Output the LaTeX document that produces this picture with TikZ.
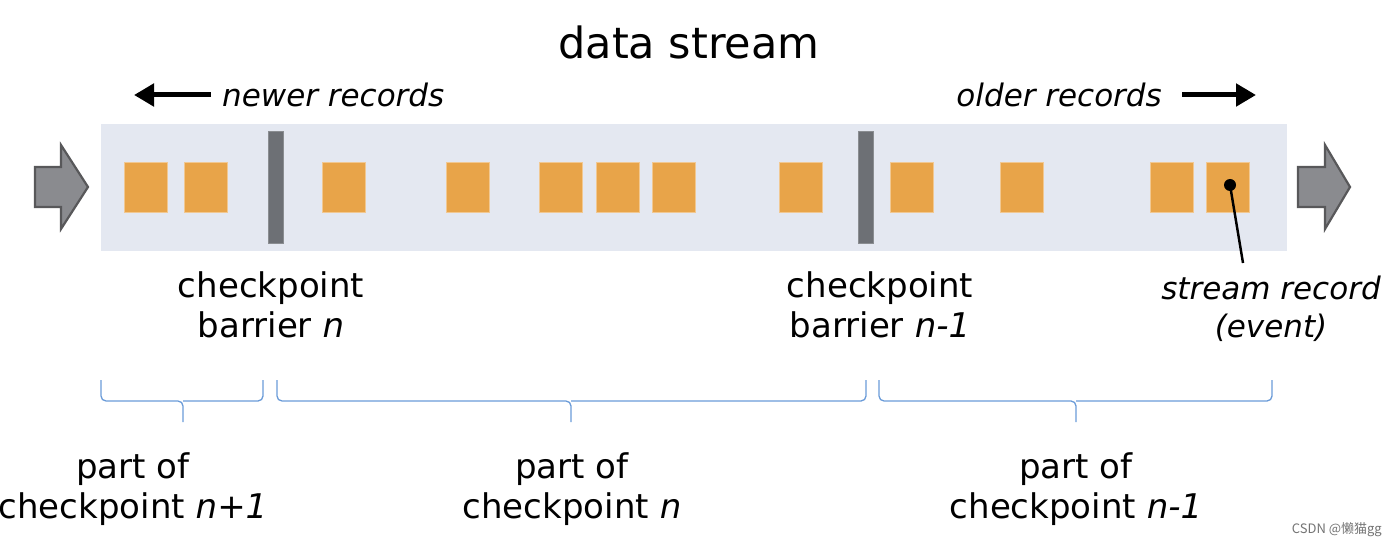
\documentclass[tikz,border=0pt]{standalone}
\usepackage{fontspec}
\setmainfont{DejaVu Sans}
\newfontfamily\cjkfont{Noto Sans CJK SC}
\usetikzlibrary{arrows.meta}
\definecolor{bandc}{HTML}{E4E8F1}
\definecolor{recc}{HTML}{E8A449}
\definecolor{barc}{HTML}{6D7075}
\definecolor{fatfill}{HTML}{8A8B8F}
\definecolor{fatdraw}{HTML}{58585A}
\definecolor{bracec}{HTML}{6A9BD8}
\tikzset{
  rec/.style={fill=recc, draw=recc!60!white, line width=0.6, minimum width=43, minimum height=50, inner sep=0},
  barrier/.style={fill=barc, draw=barc!80!white, line width=0.6, minimum width=15, minimum height=112, inner sep=0},
  lbl/.style={font=\fontsize{34}{40}\selectfont, align=center, inner sep=0},
  ilbl/.style={font=\fontsize{31}{38}\selectfont\itshape, align=center, inner sep=0},
  fat/.style={fill=fatfill, draw=fatdraw, line width=2.2, line join=miter},
  brc/.style={draw=bracec, line width=1.3, rounded corners=5},
  dirarrow/.style={line width=5, -{Triangle[length=20,width=22]}}
}
\begin{document}
\begin{tikzpicture}[x=1pt,y=-1pt]
\useasboundingbox (0,0) rectangle (1396,548);
% band
\fill[bandc] (101,124) rectangle (1287,251);
% fat arrows
\draw[fat] (35,167) -- (61,167) -- (61,145) -- (88,187) -- (61,229) -- (61,207) -- (35,207) -- cycle;
\draw[fat] (1298,167) -- (1325,167) -- (1325,145) -- (1350,187) -- (1325,229) -- (1325,207) -- (1298,207) -- cycle;
% records
\node[rec] (r1) at (145.5,187) {};
\node[rec] (r2) at (205.5,187) {};
\node[rec] (r3) at (343.5,187) {};
\node[rec] (r4) at (467.5,187) {};
\node[rec] (r5) at (560.5,187) {};
\node[rec] (r6) at (617.5,187) {};
\node[rec] (r7) at (673.5,187) {};
\node[rec] (r8) at (800.5,187) {};
\node[rec] (r9) at (911.5,187) {};
\node[rec] (r10) at (1021.5,187) {};
\node[rec] (r11) at (1171.5,187) {};
\node[rec] (r12) at (1228,187) {};
% barriers
\node[barrier] (b1) at (275.5,187) {};
\node[barrier] (b2) at (866,187) {};
% title
\node[font=\fontsize{43}{50}\selectfont, inner sep=0] (title) at (689,42) {data stream};
% direction labels
\node[ilbl, anchor=west] (newer) at (222,95) {newer records};
\node[ilbl, anchor=east] (older) at (1162,95) {older records};
\coordinate (na0) at (211,95);
\coordinate (na1) at (134,95);
\coordinate (oa0) at (1182,95);
\coordinate (oa1) at (1256,95);
\draw[dirarrow] (na0) -- (na1);
\draw[dirarrow] (oa0) -- (oa1);
% barrier labels
\node[lbl] (cb1) at (271,305) {checkpoint\\barrier \textit{n}};
\node[lbl] (cb2) at (880,305) {checkpoint\\barrier \textit{n-1}};
% stream record label
\node[ilbl] (sr) at (1271,309) {stream record\\(event)};
\coordinate (dot) at (1230,185);
\coordinate (ptr) at (1243,263);
\fill (dot) circle (6);
\draw[line width=2.5] (dot) -- (ptr);
% braces
\draw[brc] (101,380) |- (183,401) -- (183,422);
\draw[brc] (263,380) |- (183,401);
\draw[brc] (277,380) |- (571,401) -- (571,422);
\draw[brc] (866,380) |- (571,401);
\draw[brc] (879,380) |- (1076,401) -- (1076,422);
\draw[brc] (1272,380) |- (1076,401);
% part labels
\node[lbl] (p1) at (133,489) {part of\\checkpoint \textit{n+1}};
\node[lbl] (p2) at (572,489) {part of\\checkpoint \textit{n}};
\node[lbl] (p3) at (1076,489) {part of\\checkpoint \textit{n-1}};
% watermark
\node[font=\cjkfont\fontsize{13}{15}\selectfont, text=black!55, anchor=east, inner sep=0] (wm) at (1382,530) {CSDN @懒猫gg};
\end{tikzpicture}
\end{document}
